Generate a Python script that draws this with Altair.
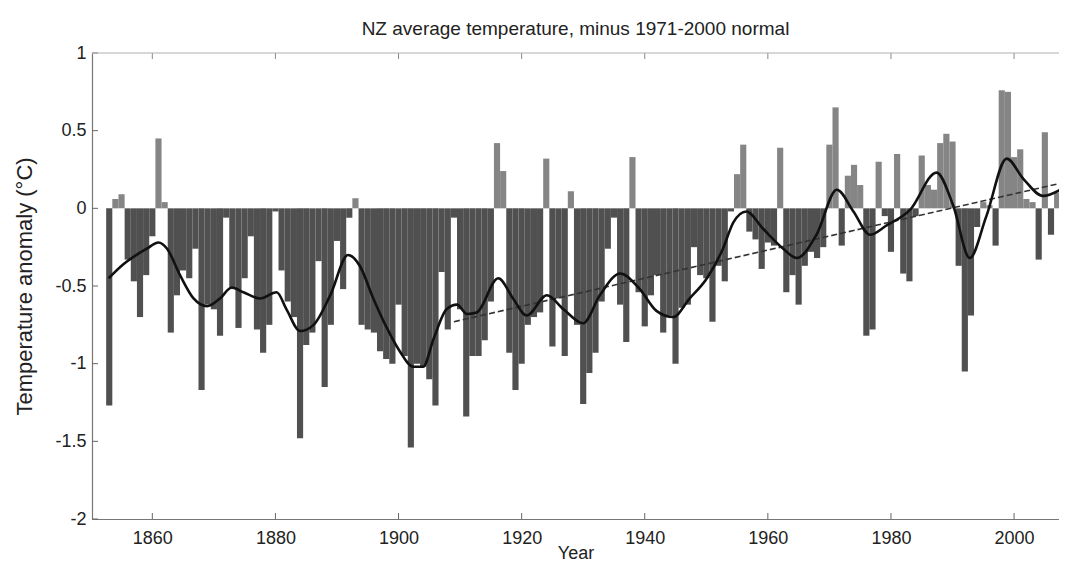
import altair as alt
import pandas as pd

# ---------------- data ----------------
years = list(range(1853, 2009))
anomaly = [
    -1.27, 0.06, 0.09, -0.33, -0.47, -0.70, -0.43,                      # 1853-1859
    -0.18, 0.45, 0.04, -0.80, -0.56, -0.40, -0.45, -0.26, -1.17, -0.62,  # 1860s
    -0.65, -0.82, -0.06, -0.52, -0.77, -0.45, -0.18, -0.78, -0.93, -0.75,  # 1870s
    -0.02, -0.40, -0.60, -0.70, -1.48, -0.88, -0.80, -0.34, -1.15, -0.75,  # 1880s
    -0.21, -0.52, -0.06, 0.065, -0.75, -0.78, -0.80, -0.92, -0.97, -1.00,  # 1890s
    -0.62, -0.95, -1.54, -1.00, -1.02, -1.10, -1.27, -0.41, -0.78, -0.06,  # 1900s
    -0.65, -1.34, -0.95, -0.95, -0.85, -0.60, 0.42, 0.24, -0.93, -1.17,    # 1910s
    -1.00, -0.75, -0.70, -0.67, 0.32, -0.89, -0.58, -0.95, 0.11, -0.75,    # 1920s
    -1.26, -1.06, -0.93, -0.60, -0.26, -0.06, -0.62, -0.86, 0.33, -0.54,   # 1930s
    -0.76, -0.56, -0.43, -0.80, -0.69, -1.00, -0.64, -0.62, -0.25, -0.43,  # 1940s
    -0.45, -0.73, -0.37, -0.47, -0.02, 0.22, 0.41, -0.15, -0.20, -0.39,    # 1950s
    -0.22, -0.24, 0.39, -0.54, -0.43, -0.62, -0.37, -0.28, -0.32, -0.25,   # 1960s
    0.41, 0.65, -0.24, 0.21, 0.28, 0.15, -0.82, -0.78, 0.30, -0.05,        # 1970s
    -0.28, 0.35, -0.42, -0.47, -0.05, 0.34, 0.15, 0.12, 0.42, 0.48,        # 1980s
    0.43, -0.37, -1.05, -0.69, -0.12, 0.04, 0.02, -0.24, 0.76, 0.75,       # 1990s
    0.33, 0.38, 0.06, 0.04, -0.33, 0.49, -0.17, 0.10, 0.30,               # 2000-2008
]

smooth_year = [
    1852.9, 1855.3, 1859.1, 1861.0, 1862.4, 1864.5, 1866.7, 1868.9, 1871.0, 1872.9,
    1874.8, 1877.5, 1880.2, 1881.8, 1884.0, 1886.2, 1888.9, 1891.8, 1893.7, 1895.9,
    1898.1, 1900.2, 1902.4, 1904.0, 1905.7, 1907.8, 1909.5, 1911.1, 1912.7, 1916.2,
    1918.6, 1920.8, 1924.1, 1926.8, 1930.0, 1932.7, 1936.0, 1939.2, 1941.9, 1944.6,
    1947.3, 1950.1, 1952.7, 1954.4, 1956.5, 1959.2, 1962.5, 1964.7, 1967.9, 1971.2,
    1973.9, 1976.6, 1979.3, 1983.1, 1987.4, 1990.1, 1992.8, 1995.5, 1998.8, 2001.5,
    2004.7, 2008.0,
]
smooth_value = [
    -0.45, -0.36, -0.26, -0.22, -0.26, -0.43, -0.58, -0.63, -0.58, -0.51,
    -0.54, -0.58, -0.54, -0.65, -0.79, -0.75, -0.56, -0.30, -0.37, -0.58,
    -0.77, -0.92, -1.02, -1.02, -0.84, -0.65, -0.62, -0.68, -0.67, -0.45,
    -0.58, -0.69, -0.56, -0.65, -0.74, -0.56, -0.42, -0.52, -0.66, -0.70,
    -0.58, -0.45, -0.26, -0.09, -0.02, -0.13, -0.26, -0.32, -0.17, 0.12,
    -0.02, -0.17, -0.11, -0.01, 0.23, 0.02, -0.32, -0.05, 0.32, 0.19,
    0.08, 0.13,
]

trend_year = [1909.0, 2008.5]
trend_value = [-0.73, 0.17]

x_ticks = [1860, 1880, 1900, 1920, 1940, 1960, 1980, 2000]
y_ticks = [1, 0.5, 0, -0.5, -1, -1.5, -2]

title_text = "NZ average temperature, minus 1971-2000 normal"
x_title = "Year"
y_title = "Temperature anomaly (\u00b0C)"

# ---------------- chart ----------------
W, H = 967, 466
FONT = "Liberation Sans"
TXT = "#222222"

x_scale = alt.Scale(domain=[1850.2, 2007.3], nice=False, zero=False)
y_scale = alt.Scale(domain=[-2, 1], nice=False, zero=False)

x_axis = alt.Axis(
    values=x_ticks,
    labelExpr="toString(datum.value)",
    title=x_title,
    labelPadding=10,
    titlePadding=-3,
    titleFontSize=18,
)
y_axis = alt.Axis(
    values=y_ticks,
    labelExpr="toString(datum.value)",
    title=y_title,
    labelPadding=6,
    titlePadding=18,
    titleFontSize=22,
)

bars_df = pd.DataFrame({"year": years, "anomaly": anomaly})

bars = (
    alt.Chart(bars_df)
    .transform_calculate(
        x0="datum.year - 0.5",
        x1="datum.year + 0.5",
        sign="datum.anomaly >= 0 ? 'pos' : 'neg'",
    )
    .mark_rect(clip=True)
    .encode(
        x=alt.X("x0:Q", scale=x_scale, axis=x_axis),
        x2="x1:Q",
        y=alt.Y("anomaly:Q", scale=y_scale, axis=y_axis),
        y2=alt.datum(0),
        color=alt.Color(
            "sign:N",
            scale=alt.Scale(domain=["neg", "pos"], range=["#505050", "#858585"]),
            legend=None,
        ),
    )
)

smooth = (
    alt.Chart(pd.DataFrame({"year": smooth_year, "value": smooth_value}))
    .mark_line(color="#111111", strokeWidth=2.6, interpolate="monotone", clip=True)
    .encode(
        x=alt.X("year:Q", scale=x_scale, axis=x_axis),
        y=alt.Y("value:Q", scale=y_scale, axis=y_axis),
    )
)

trend = (
    alt.Chart(pd.DataFrame({"year": trend_year, "value": trend_value}))
    .mark_line(color="#333333", strokeWidth=1.6, strokeDash=[6, 3], clip=True)
    .encode(
        x=alt.X("year:Q", scale=x_scale, axis=x_axis),
        y=alt.Y("value:Q", scale=y_scale, axis=y_axis),
    )
)

xt_df = pd.DataFrame({"tick": x_ticks})
yt_df = pd.DataFrame({"tick": y_ticks})

xtick_bottom = (
    alt.Chart(xt_df)
    .mark_rule(color="#666666", strokeWidth=1)
    .encode(x=alt.X("tick:Q", scale=x_scale, axis=x_axis), y=alt.value(H), y2=alt.value(H - 6))
)
xtick_top = (
    alt.Chart(xt_df)
    .mark_rule(color="#888888", strokeWidth=1)
    .encode(x=alt.X("tick:Q", scale=x_scale, axis=x_axis), y=alt.value(0), y2=alt.value(6))
)
ytick_left = (
    alt.Chart(yt_df)
    .mark_rule(color="#666666", strokeWidth=1)
    .encode(y=alt.Y("tick:Q", scale=y_scale, axis=y_axis), x=alt.value(0), x2=alt.value(6))
)
top_border = (
    alt.Chart(pd.DataFrame({"tick": [0]}))
    .mark_rule(color="#b0b0b0", strokeWidth=1.2)
    .encode(x=alt.value(0), x2=alt.value(W), y=alt.value(0))
)

chart = (
    alt.layer(bars, trend, smooth, xtick_bottom, xtick_top, ytick_left, top_border)
    .properties(
        width=W,
        height=H,
        title=alt.Title(
            title_text,
            font=FONT,
            fontSize=19,
            fontWeight="normal",
            color=TXT,
            offset=5,
        ),
        padding={"left": 84, "top": 45, "right": 0, "bottom": 47},
        autosize=alt.AutoSizeParams(type="none"),
        background="white",
    )
    .configure_view(stroke=None)
    .configure_axis(
        grid=False,
        ticks=False,
        domainColor="#777777",
        domainWidth=1.2,
        labelFont=FONT,
        titleFont=FONT,
        labelFontSize=18,
        titleFontWeight="normal",
        labelColor=TXT,
        titleColor=TXT,
    )
)

chart.save("out.html", embed_options={"renderer": "svg", "actions": False})
